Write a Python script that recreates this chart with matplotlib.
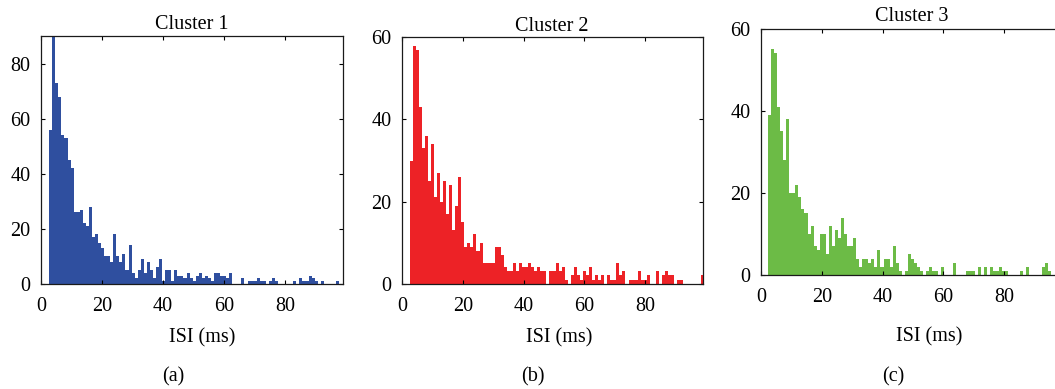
import numpy as np
import matplotlib
matplotlib.use("Agg")
import matplotlib.pyplot as plt

# ---------------- data ----------------
titles = ["Cluster 1", "Cluster 2", "Cluster 3"]
panel_labels = ["(a)", "(b)", "(c)"]
xlabel = "ISI (ms)"
bin_width = 1.0
bin_start = [2.7, 2.5, 2.3]

counts_c1 = [56, 92, 73, 68, 54, 53, 45, 42, 26, 26, 27, 22, 21, 28, 17, 18, 15, 13, 10, 10,
             8, 18, 10, 8, 11, 5, 14, 4, 2, 5, 9, 4, 8, 5, 2, 6, 9, 1, 5, 5,
             1, 5, 3, 3, 2, 4, 2, 1, 3, 4, 2, 3, 2, 1, 4, 4, 3, 3, 2, 4,
             0, 0, 0, 2, 0, 1, 1, 1, 2, 1, 1, 0, 1, 2, 1, 0, 0, 0, 0, 0,
             1, 0, 2, 1, 1, 3, 2, 1, 0, 1, 0, 0, 0, 0, 1]
counts_c2 = [30, 58, 57, 43, 33, 36, 25, 34, 21, 27, 20, 25, 17, 24, 13, 19, 26, 15, 9, 10,
             9, 12, 8, 10, 5, 5, 5, 5, 9, 9, 7, 4, 3, 3, 5, 3, 5, 4, 4, 5,
             4, 3, 4, 3, 3, 0, 3, 3, 5, 3, 4, 1, 0, 2, 4, 2, 1, 3, 2, 4,
             1, 2, 1, 2, 0, 2, 1, 1, 5, 2, 3, 0, 1, 1, 1, 3, 1, 1, 2, 0,
             0, 3, 0, 2, 3, 2, 2, 0, 1, 1, 0, 0, 0, 0, 0, 0, 2]
counts_c3 = [39, 55, 54, 41, 35, 28, 38, 20, 20, 22, 19, 16, 15, 10, 12, 7, 6, 10, 10, 5,
             12, 7, 11, 9, 14, 10, 7, 7, 9, 4, 2, 4, 4, 3, 4, 2, 6, 2, 4, 4,
             2, 7, 3, 1, 0, 1, 5, 4, 3, 2, 1, 0, 1, 2, 1, 1, 0, 2, 0, 0,
             0, 3, 0, 0, 0, 1, 1, 1, 0, 2, 0, 2, 0, 2, 1, 1, 2, 1, 1, 0,
             0, 0, 0, 1, 0, 2, 0, 0, 0, 0, 2, 3, 1]
counts = [counts_c1, counts_c2, counts_c3]

x_ticks = [0, 20, 40, 60, 80]
y_ticks = [[0, 20, 40, 60, 80], [0, 20, 40, 60], [0, 20, 40, 60]]
y_max = [90, 60, 60]
x_max = 99

# ---------------- style / layout ----------------
colors = ["#2f4f9f", "#ed2226", "#6cbb46"]
W, H = 1055, 389
FS = 14.5
plt.rcParams['font.family'] = ['Liberation Serif', 'DejaVu Serif']

# axes rectangles in pixels: left, top, right, bottom
rects = [(41, 36, 343, 284), (402, 37.3, 703, 283.7), (761, 28.7, 1062, 275)]
title_pos = [(192, 29.3), (552, 30.7), (912, 20.7)]
xlabel_pos = [(202, 342.7), (559, 342.7), (929, 341.7)]
plabel_pos = [(173, 381.7), (533, 381.7), (893, 381.7)]

fig = plt.figure(figsize=(W / 100, H / 100), dpi=100)

def fx(x):
    return x / W

def fy(y):
    return 1 - y / H

for i in range(3):
    l, t, r, b = rects[i]
    ax = fig.add_axes([fx(l), fy(b), (r - l) / W, (b - t) / H])
    c = np.asarray(counts[i], dtype=float)
    edges = bin_start[i] + bin_width * np.arange(len(c) + 1)
    ax.hist(edges[:-1] + bin_width / 2, bins=edges, weights=c,
            color=colors[i], edgecolor='none', linewidth=0)
    ax.set_xlim(0, x_max)
    ax.set_ylim(0, y_max[i])
    ax.set_xticks(x_ticks)
    ax.set_yticks(y_ticks[i])
    ax.tick_params(direction='in', length=3, width=0.8, top=True, right=True,
                   labelsize=FS, colors='black')
    ax.tick_params(axis='x', pad=9.5)
    ax.tick_params(axis='y', pad=7.5)
    for s in ax.spines.values():
        s.set_linewidth(0.9)
        s.set_color('#1a1a1a')
    fig.text(fx(title_pos[i][0]), fy(title_pos[i][1]), titles[i],
             ha='center', va='baseline', fontsize=FS)
    fig.text(fx(xlabel_pos[i][0]), fy(xlabel_pos[i][1]), xlabel,
             ha='center', va='baseline', fontsize=FS)
    fig.text(fx(plabel_pos[i][0]), fy(plabel_pos[i][1]), panel_labels[i],
             ha='center', va='baseline', fontsize=FS)

fig.savefig("out.png", dpi=100)
